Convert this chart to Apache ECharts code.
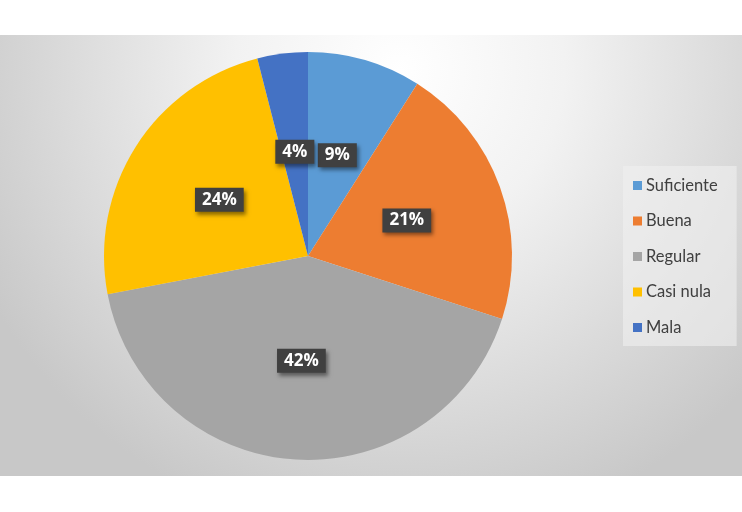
<!DOCTYPE html>
<html>
<head>
<meta charset="utf-8">
<script src="https://cdn.jsdelivr.net/npm/echarts@6/dist/echarts.min.js"></script>
<style>
html,body{margin:0;padding:0;background:#fff;}
#c{width:742px;height:512px;}
</style>
</head>
<body>
<div id="c"></div>
<script>
const categories = ['Suficiente', 'Buena', 'Regular', 'Casi nula', 'Mala'];
const values = [9, 21, 42, 24, 4];
const colors = ['#5B9BD5', '#ED7D31', '#A5A5A5', '#FFC000', '#4472C4'];

const chart = echarts.init(document.getElementById('c'), null, {renderer: 'canvas'});
chart.setOption({
  animation: false,
  backgroundColor: '#ffffff',
  graphic: [{
    type: 'rect',
    z: -10,
    silent: true,
    shape: {x: 0, y: 35, width: 742, height: 441},
    style: {
      fill: {
        type: 'radial', x: 400, y: 70, r: 470, global: true,
        colorStops: [
          {offset: 0, color: '#ffffff'},
          {offset: 0.35, color: '#f2f2f2'},
          {offset: 0.75, color: '#d8d8d8'},
          {offset: 1, color: '#c8c8c8'}
        ]
      }
    }
  }],
  legend: {
    orient: 'vertical',
    left: 623,
    top: 166,
    padding: [10, 19, 9, 10],
    backgroundColor: 'rgba(240,240,240,0.6)',
    itemWidth: 9,
    itemHeight: 9,
    itemGap: 16.5,
    icon: 'rect',
    textStyle: {fontFamily: 'Lato', fontSize: 16.5, color: '#404040', lineHeight: 19, padding: [0, 0, 0, -1]},
    data: categories
  },
  series: [{
    type: 'pie',
    center: [308, 256],
    radius: [0, 204],
    startAngle: 90,
    clockwise: true,
    color: colors,
    itemStyle: {borderWidth: 0},
    label: {
      show: true,
      position: 'inside',
      formatter: '{c}%',
      color: '#ffffff',
      fontFamily: 'Open Sans',
      fontWeight: 'bold',
      fontSize: 17,
      backgroundColor: '#404040',
      padding: [4, 7, 3, 7],
      shadowColor: 'rgba(0,0,0,0.45)',
      shadowBlur: 4,
      shadowOffsetX: 2,
      shadowOffsetY: 3
    },
    labelLine: {show: false},
    data: categories.map((n, i) => ({name: n, value: values[i]}))
  }]
});
</script>
</body>
</html>
